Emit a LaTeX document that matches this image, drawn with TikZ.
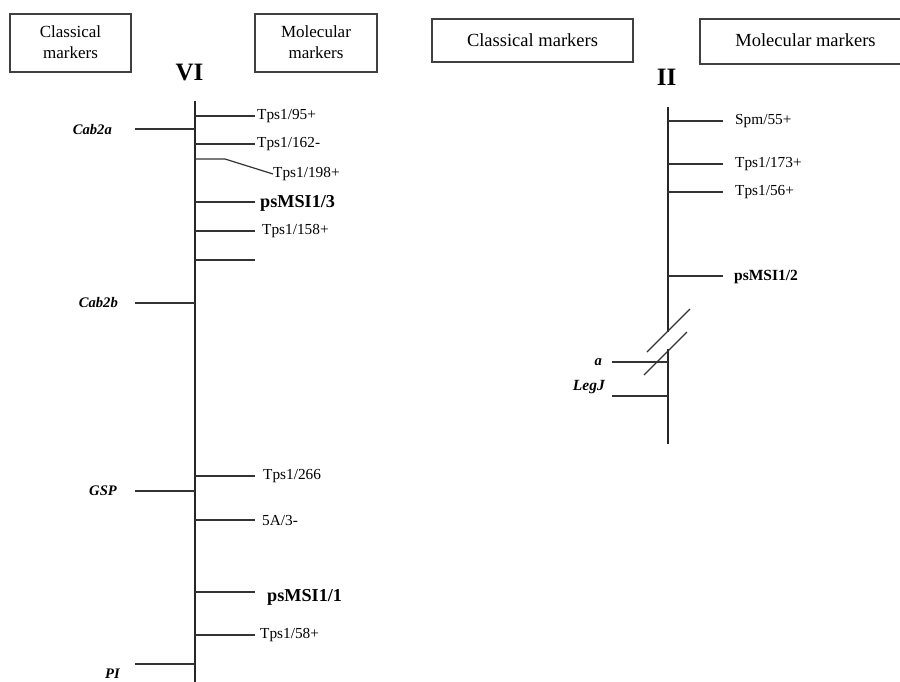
\documentclass[tikz,border=0pt]{standalone}
\usepackage{fontspec}
\setmainfont{Liberation Serif}
\begin{document}
\begin{tikzpicture}[x=1pt,y=-1pt,
  chrom/.style={line width=2.3pt,draw=black!85},
  tick/.style={line width=1.2pt,draw=black!80},
  hdrbox/.style={draw=black!75,line width=1.3pt},
  boxtxt/.style={inner sep=0pt,align=center,font=\fontsize{17}{20.5}\selectfont},
  boxtxtb/.style={inner sep=0pt,font=\fontsize{18.5}{22}\selectfont},
  mlab/.style={inner sep=0pt,anchor=west,font=\fontsize{15.3}{18}\selectfont},
  blab/.style={inner sep=0pt,anchor=west,font=\fontsize{18.2}{21}\selectfont\bfseries},
  clab/.style={inner sep=0pt,anchor=east,font=\fontsize{14.6}{17}\selectfont\bfseries\itshape},
  chrname/.style={inner sep=0pt,font=\fontsize{25}{28}\selectfont\bfseries}]
\useasboundingbox (0,0) rectangle (900,681);
\clip (0,0) rectangle (900,681);
\fill[white] (0,0) rectangle (900,681);

% ---------------- left panel (VI) ----------------
\draw[hdrbox] (10,14) rectangle (131,72);
\node[boxtxt] (lcm) at (70.5,42) {Classical\\markers};
\draw[hdrbox] (255,14) rectangle (377,72);
\node[boxtxt] (lmm) at (316,42) {Molecular\\markers};
\node[chrname] (vi) at (189.5,72) {VI};

\coordinate (vitop) at (195,101);
\coordinate (vibot) at (195,690);
\draw[chrom] (vitop) -- (vibot);

% right (molecular) ticks
\foreach \y/\nm in {116/a1,144/a2,202/a4,231/a5,260/a6,476/a7,520/a8,592/a9,635/a10}{
  \coordinate (s\nm) at (195,\y);
  \coordinate (e\nm) at (255,\y);
  \draw[tick] (s\nm) -- (e\nm);
}
\node[mlab] (t95) at (257,116) {Tps1/95+};
\node[mlab] (t162) at (257,144) {Tps1/162-};
\node[blab] (ms3) at (260,203) {psMSI1/3};
\node[mlab] (t158) at (262,231) {Tps1/158+};
\node[mlab] (t266) at (263,476) {Tps1/266};
\node[mlab] (a53) at (262,520) {5A/3-};
\node[blab] (ms1) at (267,597) {psMSI1/1};
\node[mlab] (t58) at (260,635) {Tps1/58+};

% bent tick Tps1/198+
\coordinate (sb) at (195,159);
\coordinate (kb) at (225,159);
\node[mlab] (t198) at (273,174) {Tps1/198+};
\draw[tick] (sb) -- (kb) -- (t198.west);

% left (classical) ticks
\foreach \y/\nm in {129/c1,303/c2,491/c3,664/c4}{
  \coordinate (ls\nm) at (135,\y);
  \coordinate (le\nm) at (195,\y);
  \draw[tick] (ls\nm) -- (le\nm);
}
\node[clab] (cab2a) at (112,130) {Cab2a};
\node[clab] (cab2b) at (118,303) {Cab2b};
\node[clab] (gsp) at (117,491) {GSP};
\node[clab] (pl) at (120,674) {PI};

% ---------------- right panel (II) ----------------
\draw[hdrbox] (432,19) rectangle (633,62);
\node[boxtxtb] (rcm) at (532.5,40) {Classical markers};
\draw[hdrbox] (700,19) rectangle (911,64);
\node[boxtxtb] (rmm) at (805.5,40) {Molecular markers};
\node[chrname] (ii) at (666.5,77) {II};

\coordinate (iitop) at (668,107);
\coordinate (iibrk1) at (668,332);
\coordinate (iibrk2) at (668,349);
\coordinate (iibot) at (668,444);
\draw[chrom] (iitop) -- (iibrk1);
\draw[chrom] (iibrk2) -- (iibot);
% break slashes
\coordinate (sl1a) at (647,352);
\coordinate (sl1b) at (690,309);
\coordinate (sl2a) at (644,375);
\coordinate (sl2b) at (687,332);
\draw[tick] (sl1a) -- (sl1b);
\draw[tick] (sl2a) -- (sl2b);

\foreach \y/\nm in {121/b1,164/b2,192/b3,276/b4}{
  \coordinate (rs\nm) at (668,\y);
  \coordinate (re\nm) at (723,\y);
  \draw[tick] (rs\nm) -- (re\nm);
}
\node[mlab] (spm) at (735,121) {Spm/55+};
\node[mlab] (t173) at (735,164) {Tps1/173+};
\node[mlab] (t56) at (735,192) {Tps1/56+};
\node[mlab,font=\fontsize{15.5}{18}\selectfont\bfseries] (ms2) at (734,277) {psMSI1/2};

\foreach \y/\nm in {362/d1,396/d2}{
  \coordinate (rl\nm) at (612,\y);
  \coordinate (rr\nm) at (668,\y);
  \draw[tick] (rl\nm) -- (rr\nm);
}
\node[clab] (la) at (602,362) {a};
\node[clab,font=\fontsize{15.5}{18}\selectfont\bfseries\itshape] (legj) at (605,387) {LegJ};
\end{tikzpicture}
\end{document}
